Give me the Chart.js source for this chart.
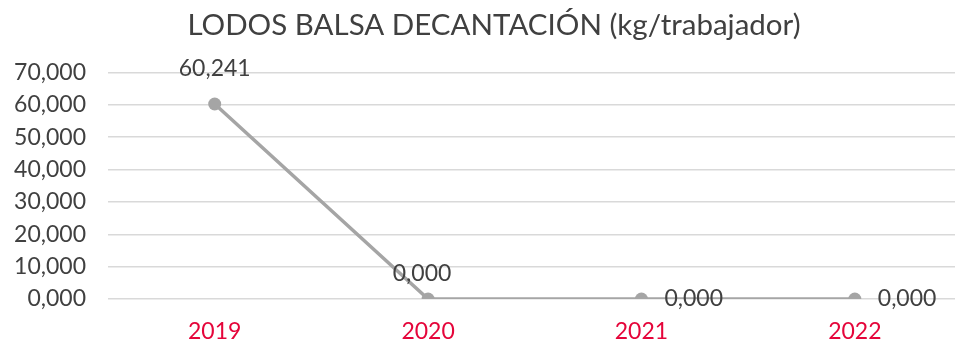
<!DOCTYPE html>
<html>
<head>
<meta charset="utf-8">
<script src="https://cdn.jsdelivr.net/npm/chart.js@4/dist/chart.umd.min.js"></script>
<style>
  html, body { margin: 0; padding: 0; background: #fff; overflow: hidden; }
  #wrap { width: 968px; height: 345px; position: relative; }
</style>
</head>
<body>
<div id="wrap"><canvas id="lodosChart"></canvas></div>
<script>
// Datos: lodos de balsa de decantación por trabajador
const years = ['2019', '2020', '2021', '2022'];
const lodosKg = [60.241, 0, 0, 0];
const yTicks = [0, 10, 20, 30, 40, 50, 60, 70];

// Colocación de etiquetas de valor (desplazamiento desde el punto)
const labelShift = [[0, -35], [-6, -25], [23, 0], [23, 0]];
const labelAlign = ['center', 'center', 'left', 'left'];

const fmt = v => v.toFixed(3).replace('.', ',').replace(/\B(?=(\d{3})+(?!\d))/g, '.');

// Plugin sencillo para dibujar los valores junto a cada punto
const valueLabels = {
    id: 'valueLabels',
    afterDatasetsDraw(chart) {
        const ctx = chart.ctx;
        const meta = chart.getDatasetMeta(0);
        ctx.save();
        ctx.font = '23px Lato';
        ctx.fillStyle = '#404040';
        ctx.textBaseline = 'middle';
        meta.data.forEach((pt, i) => {
            ctx.textAlign = labelAlign[i];
            ctx.fillText(fmt(lodosKg[i]), pt.x + labelShift[i][0], pt.y + labelShift[i][1]);
        });
        ctx.restore();
    }
};

// El título se centra un poco a la derecha del lienzo
const shiftTitle = {
    id: 'shiftTitle',
    beforeDraw(chart) { chart.titleBlock.left = 10; chart.titleBlock.right = chart.width + 10; }
};

new Chart(document.getElementById('lodosChart'), {
    type: 'line',
    data: {
        labels: years,
        datasets: [{
            data: lodosKg,
            borderColor: '#A5A5A5',
            backgroundColor: '#A5A5A5',
            borderWidth: 3.5,
            pointRadius: 6.5,
            pointHoverRadius: 6.5,
            pointBackgroundColor: '#A5A5A5',
            pointBorderWidth: 0,
            tension: 0
        }]
    },
    options: {
        responsive: true,
        maintainAspectRatio: false,
        animation: false,
        layout: { padding: { left: 0, right: 0, top: 0, bottom: 0 } },
        plugins: {
            legend: { display: false },
            tooltip: { enabled: false },
            title: {
                display: true,
                text: 'LODOS BALSA DECANTACIÓN (kg/trabajador)',
                color: '#404040',
                font: { family: 'Lato', size: 29.5, weight: 'normal' },
                padding: { top: 8, bottom: 29 }
            }
        },
        scales: {
            x: {
                offset: true,
                grid: { display: false },
                border: { display: false },
                afterFit: axis => { axis.height = 46; },
                ticks: {
                    color: '#E5053A',
                    font: { family: 'Lato', size: 23 },
                    padding: 11
                }
            },
            y: {
                min: 0,
                max: 70,
                afterBuildTicks: axis => { axis.ticks = yTicks.map(v => ({ value: v })); },
                afterFit: axis => { axis.width = 108; },
                grid: { color: '#D9D9D9', lineWidth: 1.5, drawTicks: false },
                border: { display: false },
                ticks: {
                    color: '#404040',
                    font: { family: 'Lato', size: 23 },
                    padding: 22,
                    callback: v => fmt(v)
                }
            }
        }
    },
    plugins: [valueLabels, shiftTitle]
});
</script>
</body>
</html>
